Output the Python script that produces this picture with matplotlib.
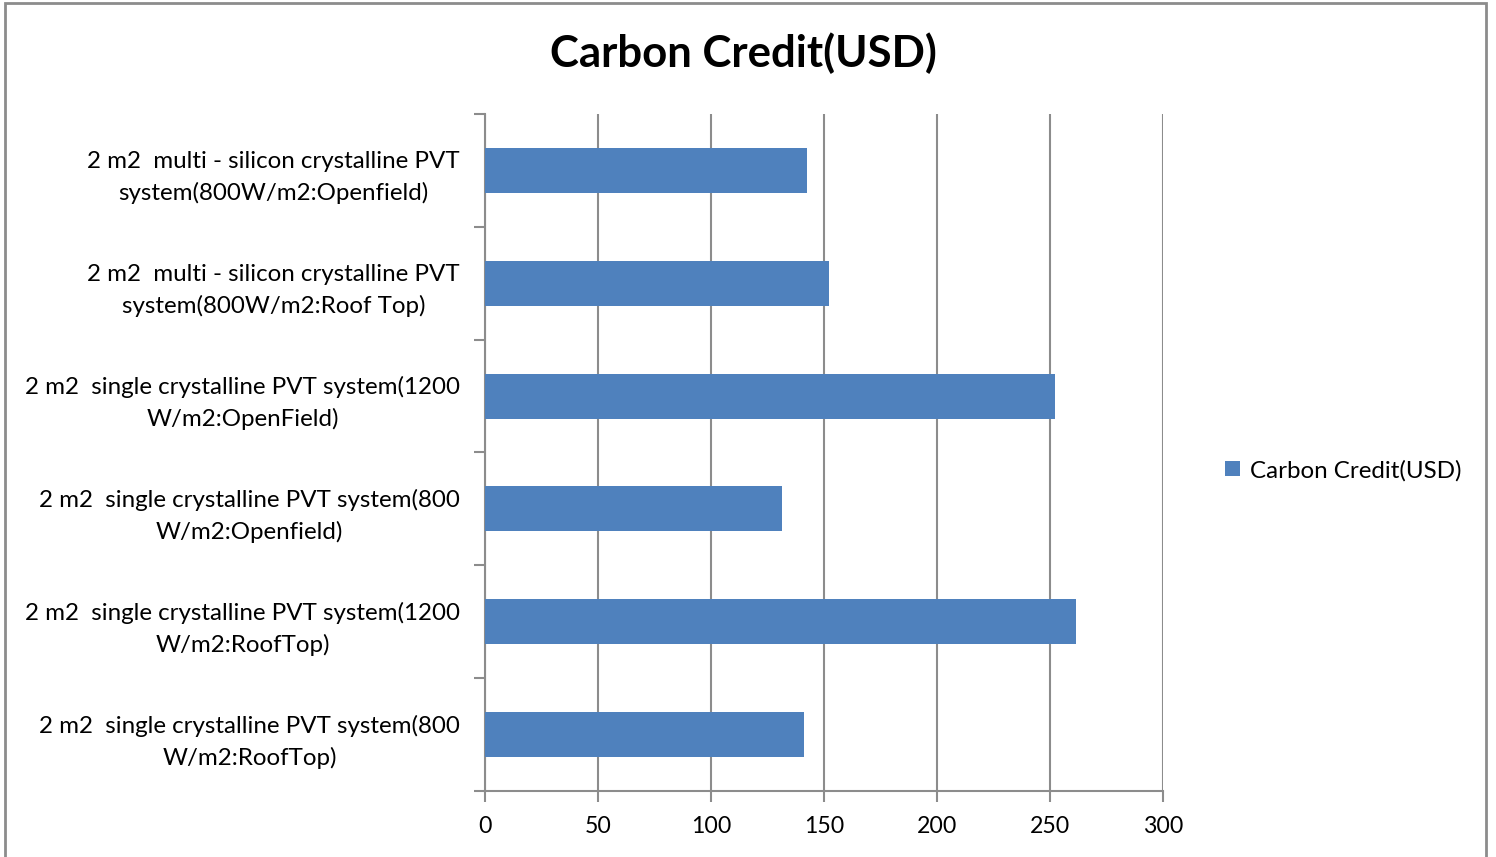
import numpy as np
import matplotlib.pyplot as plt
import matplotlib as mpl
from matplotlib.patches import Rectangle

mpl.rc('font', family=['Lato', 'DejaVu Sans'])

# data (top to bottom)
categories = ['2 m2  multi - silicon crystalline PVT\nsystem(800W/m2:Openfield)',
              '2 m2  multi - silicon crystalline PVT\nsystem(800W/m2:Roof Top)',
              '2 m2  single crystalline PVT system(1200\nW/m2:OpenField)',
              '2 m2  single crystalline PVT system(800\nW/m2:Openfield)',
              '2 m2  single crystalline PVT system(1200\nW/m2:RoofTop)',
              '2 m2  single crystalline PVT system(800\nW/m2:RoofTop)']
credit = [142.5, 152.2, 252.2, 131.4, 261.5, 141.2]
xticks = [0, 50, 100, 150, 200, 250, 300]

grid_col = '#8c8c8c'
bar_col = '#4f81bd'

fig = plt.figure(figsize=(14.96, 8.57), dpi=100)
ax = fig.add_axes([0.3242, 0.077, 0.4532, 0.790])

pos = np.arange(len(categories))
ax.barh(pos, credit, height=0.4, color=bar_col, label='Carbon Credit(USD)', zorder=3)

ax.set_xlim(0, 300)
ax.set_ylim(len(categories) - 0.5, -0.5)
ax.set_xticks(xticks)
ax.set_xticklabels([str(t) for t in xticks], fontsize=16.7)
ax.set_yticks(pos)
ax.set_yticklabels(categories, fontsize=17.4, multialignment='center', linespacing=1.55)
ax.set_yticks(np.arange(len(categories) + 1) - 0.5, minor=True)
ax.tick_params(axis='y', which='major', length=0, pad=18)
ax.tick_params(axis='y', which='minor', length=8, width=1.5, color=grid_col)
ax.tick_params(axis='x', length=8, width=1.5, color=grid_col, pad=10)

ax.grid(axis='x', color=grid_col, linewidth=1.5, zorder=0)
ax.set_axisbelow(True)
for s in ['top', 'right']:
    ax.spines[s].set_visible(False)
for s in ['left', 'bottom']:
    ax.spines[s].set_color(grid_col)
    ax.spines[s].set_linewidth(1.5)

fig.suptitle('Carbon Credit(USD)', x=0.497, y=0.962, fontsize=31.5, fontweight='bold')

leg = fig.legend(loc='center left', bbox_to_anchor=(0.8046, 0.451), frameon=False,
                 fontsize=17.4, handlelength=0.6, handleheight=0.6, handletextpad=0.4)

# outer border
fig.patches.append(Rectangle((5 / 1496, -0.01), 1481 / 1496, 1 - 3 / 857 + 0.01,
                             transform=fig.transFigure, fill=False,
                             edgecolor='#8c8c8c', linewidth=2))

fig.savefig('out.png', dpi=100)
